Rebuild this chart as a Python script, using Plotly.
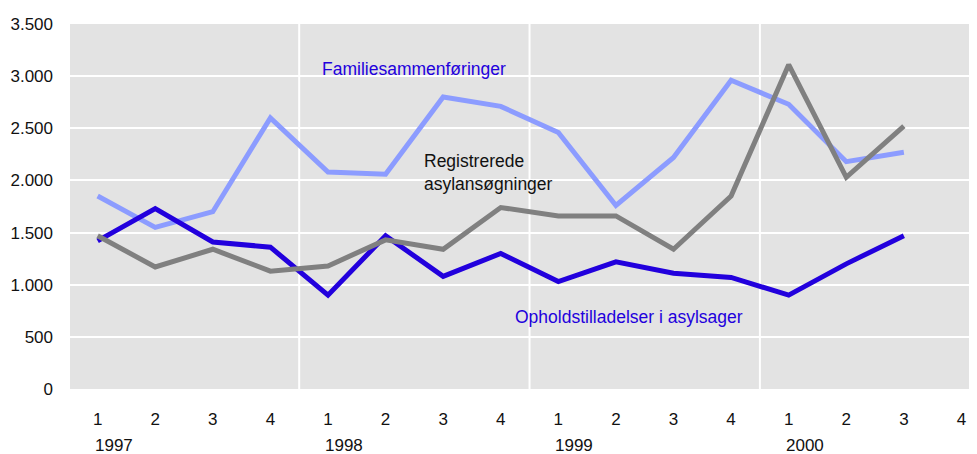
import plotly.graph_objects as go

quarters = ["1", "2", "3", "4"] * 4
years = ["1997", "1998", "1999", "2000"]

familie = [1850, 1550, 1700, 2600, 2080, 2060, 2800, 2710, 2460, 1760, 2220, 2960, 2730, 2180, 2270]
asyl_reg = [1470, 1170, 1340, 1130, 1180, 1430, 1340, 1740, 1660, 1660, 1340, 1850, 3110, 2030, 2520]
ophold = [1420, 1730, 1410, 1360, 900, 1470, 1080, 1300, 1030, 1220, 1110, 1070, 900, 1200, 1470]

y_tickvals = [0, 500, 1000, 1500, 2000, 2500, 3000, 3500]
y_ticktext = ["0", "500", "1.000", "1.500", "2.000", "2.500", "3.000", "3.500"]

FONT = "Liberation Sans, Arial, sans-serif"
C_LIGHT = "#8C9CFF"
C_DARK = "#2200DD"
C_GRAY = "#808080"
TXT = "#111111"

xs = list(range(len(quarters)))

fig = go.Figure()
fig.add_trace(go.Scatter(x=xs[:len(familie)], y=familie, mode="lines",
                         line=dict(color=C_LIGHT, width=5), name="Familiesammenføringer"))
fig.add_trace(go.Scatter(x=xs[:len(ophold)], y=ophold, mode="lines",
                         line=dict(color=C_DARK, width=5), name="Opholdstilladelser i asylsager"))
fig.add_trace(go.Scatter(x=xs[:len(asyl_reg)], y=asyl_reg, mode="lines",
                         line=dict(color=C_GRAY, width=5), name="Registrerede asylansøgninger"))

# year separators
for k in range(1, len(years)):
    fig.add_shape(type="line", xref="x", yref="paper", x0=4 * k - 0.5, x1=4 * k - 0.5,
                  y0=0, y1=1, line=dict(color="white", width=2), layer="below")

annotations = []
for i, yr in enumerate(years):
    annotations.append(dict(x=4 * i, y=-0.156, xref="x", yref="paper", text=yr,
                            showarrow=False, xanchor="left", yanchor="middle", xshift=-5,
                            font=dict(family=FONT, size=17, color=TXT)))
annotations.append(dict(x=3.86, y=3070, xref="x", yref="y", text="Familiesammenføringer",
                        showarrow=False, xanchor="left", yanchor="middle",
                        font=dict(family=FONT, size=17.5, color=C_DARK)))
annotations.append(dict(x=5.63, y=2074, xref="x", yref="y", text="Registrerede<br>asylansøgninger",
                        showarrow=False, xanchor="left", yanchor="middle", align="left",
                        font=dict(family=FONT, size=17.5, color=TXT)))
annotations.append(dict(x=7.21, y=693, xref="x", yref="y", text="Opholdstilladelser i asylsager",
                        showarrow=False, xanchor="left", yanchor="middle",
                        font=dict(family=FONT, size=17.5, color=C_DARK)))

# page body has an 8px margin, so the figure is sized to fill the remaining window
fig.update_layout(
    width=969, height=446,
    margin=dict(l=62, r=0, t=16, b=65, autoexpand=False),
    paper_bgcolor="white", plot_bgcolor="#E3E3E3",
    showlegend=False,
    font=dict(family=FONT, size=17, color=TXT),
    annotations=annotations,
    xaxis=dict(range=[-0.48, 15.27], tickvals=xs, ticktext=quarters, showgrid=False,
               zeroline=False, showline=False, ticks="", ticklabelstandoff=18, automargin=False,
               tickfont=dict(family=FONT, size=17, color=TXT)),
    yaxis=dict(range=[0, 3500], tickvals=y_tickvals, ticktext=y_ticktext, showgrid=True,
               gridcolor="white", gridwidth=2, zeroline=False, showline=False, ticks="",
               ticklabelstandoff=16, automargin=False,
               tickfont=dict(family=FONT, size=17, color=TXT)),
)

fig.write_html("out.html")
